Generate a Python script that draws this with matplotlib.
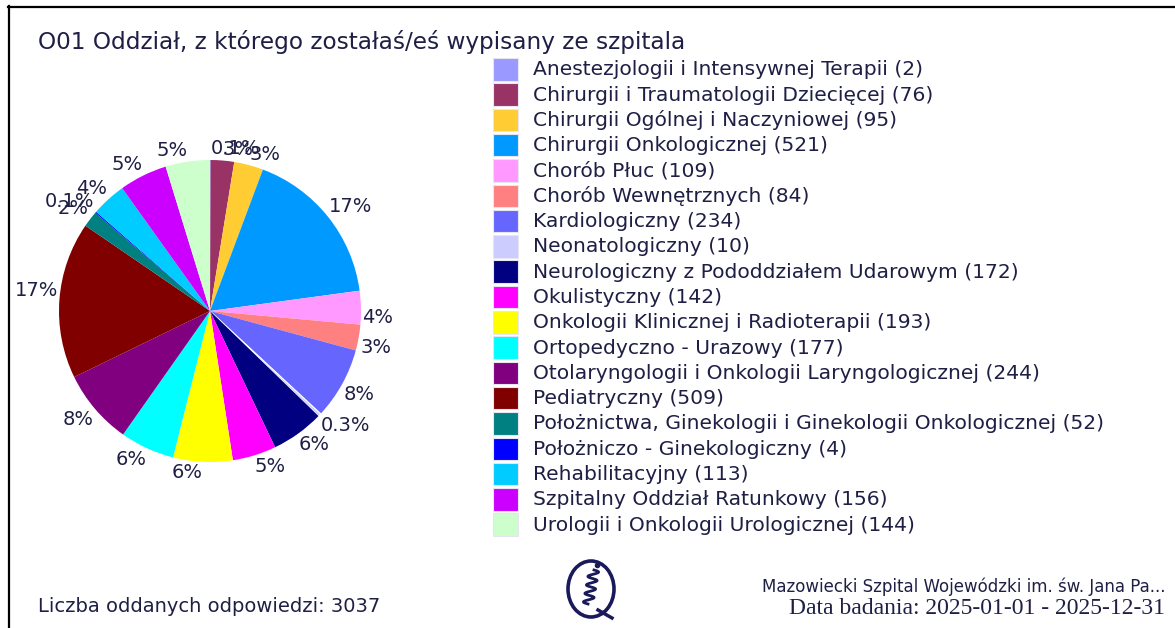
import matplotlib
matplotlib.use("Agg")
import matplotlib.pyplot as plt
from matplotlib.patches import Rectangle, Ellipse
from matplotlib.lines import Line2D
import numpy as np

categories = [
    "Anestezjologii i Intensywnej Terapii",
    "Chirurgii i Traumatologii Dziecięcej",
    "Chirurgii Ogólnej i Naczyniowej",
    "Chirurgii Onkologicznej",
    "Chorób Płuc",
    "Chorób Wewnętrznych",
    "Kardiologiczny",
    "Neonatologiczny",
    "Neurologiczny z Pododdziałem Udarowym",
    "Okulistyczny",
    "Onkologii Klinicznej i Radioterapii",
    "Ortopedyczno - Urazowy",
    "Otolaryngologii i Onkologii Laryngologicznej",
    "Pediatryczny",
    "Położnictwa, Ginekologii i Ginekologii Onkologicznej",
    "Położniczo - Ginekologiczny",
    "Rehabilitacyjny",
    "Szpitalny Oddział Ratunkowy",
    "Urologii i Onkologii Urologicznej",
]
counts = [2, 76, 95, 521, 109, 84, 234, 10, 172, 142, 193, 177, 244, 509, 52, 4, 113, 156, 144]
colors = [
    "#9999ff", "#993366", "#ffcc33", "#0099ff", "#ff99ff", "#ff8080", "#6666ff",
    "#ccccff", "#000080", "#ff00ff", "#ffff00", "#00ffff", "#800080", "#800000",
    "#008080", "#0000ff", "#00ccff", "#cc00ff", "#ccffcc",
]
title = "O01 Oddział, z którego zostałaś/eś wypisany ze szpitala"
footer_left = "Liczba oddanych odpowiedzi: 3037"
footer_right1 = "Mazowiecki Szpital Wojewódzki im. św. Jana Pa..."
footer_right2 = "Data badania: 2025-01-01 - 2025-12-31"

TXT = "#1f1f45"
W, H = 1175, 628
fig = plt.figure(figsize=(W / 100, H / 100), dpi=100)
fig.patch.set_facecolor("white")

total = sum(counts)
def fmt(c):
    p = 100.0 * c / total
    if p < 1:
        return f"{p:.1f}%"
    return f"{p:.0f}%"
pct_labels = [fmt(c) for c in counts]

# pie axes
cx, cy, r = 210, 311, 151
ax = fig.add_axes([(cx - r) / W, (H - cy - r) / H, 2 * r / W, 2 * r / H])
wedges, _ = ax.pie(counts, colors=colors, startangle=90, counterclock=False,
                   radius=1, wedgeprops=dict(linewidth=0))
wedges[7].set_edgecolor("white")
wedges[7].set_linewidth(0.8)
ax.set_xlim(-1, 1)
ax.set_ylim(-1, 1)
ax.axis("off")

# percentage labels: box corner touching the rim at the slice's mid-angle
for w, lab in zip(wedges, pct_labels):
    mid = np.deg2rad((w.theta1 + w.theta2) / 2.0)
    x, y = 1.01 * np.cos(mid), 1.01 * np.sin(mid)
    ha = "left" if x > 0 else "right"
    va = "bottom" if y > 0.05 else "top"
    ax.text(x, y, lab, ha=ha, va=va, fontsize=14, color=TXT, family="DejaVu Sans",
            clip_on=False)

# legend
lx0 = 493
ly0 = 58
pitch = 25.3
sw_w, sw_h = 25, 22.5
lax = fig.add_axes([0, 0, 1, 1], zorder=-1)
lax.set_xlim(0, W)
lax.set_ylim(H, 0)
lax.axis("off")
for i, (cat, cnt, col) in enumerate(zip(categories, counts, colors)):
    y = ly0 + i * pitch
    lax.add_patch(Rectangle((lx0, y), sw_w, sw_h, facecolor=col, edgecolor="#e6e6f0", linewidth=0.8))
    lax.text(533, y + sw_h / 2 + 0.5, f"{cat} ({cnt})", fontsize=14.6, color=TXT,
             va="center", ha="left", family="DejaVu Sans")

# frame lines
lax.add_line(Line2D([8.5, 8.5], [6, H], color="black", linewidth=1.6))
lax.add_line(Line2D([8, W], [6.5, 6.5], color="black", linewidth=1.6))

# title
lax.text(38, 42, title, fontsize=16.7, color=TXT, va="center", ha="left", family="DejaVu Sans")

# footer
lax.text(38, 607, footer_left, fontsize=14, color=TXT, va="center", ha="left",
         family=["Liberation Sans Narrow", "DejaVu Sans"])
lax.text(1165, 587, footer_right1, fontsize=12, color=TXT, va="center", ha="right",
         family=["Liberation Sans Narrow", "DejaVu Sans"])
lax.text(1165, 609, footer_right2, fontsize=17, color=TXT, va="center", ha="right",
         family=["Liberation Serif", "DejaVu Serif"])

# logo
LC = "#1a1a5a"
lax.add_patch(Ellipse((591, 589), 46, 56, facecolor="none", edgecolor=LC, linewidth=2.6))
ts = np.linspace(0, 1, 80)
lax.plot(594 + 5 * np.sin(ts * 8 * np.pi) - ts * 6, 570 + ts * 34, color=LC, linewidth=2)
lax.plot([597], [565], marker="o", markersize=3, color=LC)
lax.plot([598, 612], [610, 618], color=LC, linewidth=2.5)

fig.savefig("out.png", dpi=100, facecolor="white")
